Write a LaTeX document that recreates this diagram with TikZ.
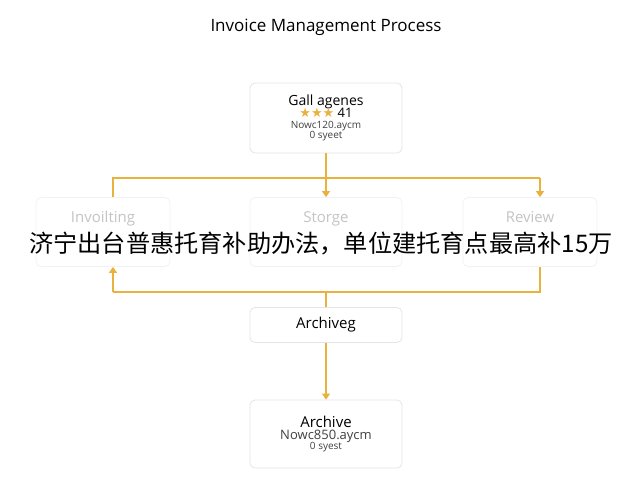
\documentclass[tikz,border=0pt]{standalone}
\usepackage{fontspec}
\setmainfont{Open Sans}
\newfontfamily\cjk{Noto Sans CJK SC}
\newfontfamily\sym{DejaVu Sans}
\usetikzlibrary{arrows.meta}
\definecolor{flow}{HTML}{E8B23C}
\definecolor{faded}{HTML}{C4C4C4}

\begin{document}
\begin{tikzpicture}[x=1pt, y=-1pt, line width = 1.3pt,
                    box/.style = {draw = black!10, line width = 0.8pt, rounded corners = 5pt,
                                  minimum width = 152pt, align = center, fill = white},
                    flowarrow/.style = {draw = flow, -{Triangle[width=8pt,length=6pt]}},
                    wire/.style = {draw = flow}]
\useasboundingbox (0,0) rectangle (640,480);

\node at (326,27) {\fontsize{17}{19}\selectfont Invoice Management Process};

% boxes
\node [box, minimum height = 70pt] (gall) at (326,118)
  {\fontsize{14}{15}\selectfont Gall agenes\\[-2pt]
   \fontsize{13}{14}\selectfont{\sym\color{flow}★★★} 41\\[-1pt]
   \color{black!75}Nowc120.aycm\\[-2pt] \color{black!75}0 syeet};
\node [box, minimum width = 134pt, minimum height = 69pt, draw = black!5] (inv) at (103,232)
  {\fontsize{15}{17}\selectfont\color{faded}Invoilting\\[18pt]};
\node [box, minimum height = 69pt, draw = black!5] (sto) at (326,232)
  {\fontsize{15}{17}\selectfont\color{faded}Storge\\[18pt]};
\node [box, minimum width = 134pt, minimum height = 69pt, draw = black!5] (rev) at (530,232)
  {\fontsize{15}{17}\selectfont\color{faded}Review\\[18pt]};
\node [box, minimum height = 35pt] (archg) at (326,325) {\fontsize{15}{17}\selectfont Archiveg};
\node [box, minimum height = 68pt] (arch) at (326,434)
  {\fontsize{15}{17}\selectfont Archive\\[0pt]
   \fontsize{13}{14}\selectfont\color{black!75}Nowc850.aycm\\[-2pt] \color{black!75}0 syest};

% branch points
\coordinate (tl) at (113,178);
\coordinate (tr) at (540,178);
\coordinate (bl) at (113,292);
\coordinate (br) at (540,292);
\coordinate (bm) at (326,292);

% connectors
\draw [flowarrow] (gall) -- (sto);
\draw [wire] (inv.north -| tl) -- (tl) -- (tr);
\draw [flowarrow] (tr) -- (rev.north -| tr);
\draw [wire] (rev.south -| br) -- (br) -- (bl);
\draw [flowarrow] (bl) -- (inv.south -| bl);
\draw [wire] (bm) -- (archg);
\draw [flowarrow] (archg) -- (arch);

\node (cap) at (321,244) {\cjk\fontsize{24.2}{26}\selectfont 济宁出台普惠托育补助办法，单位建托育点最高补15万};
\end{tikzpicture}
\end{document}
